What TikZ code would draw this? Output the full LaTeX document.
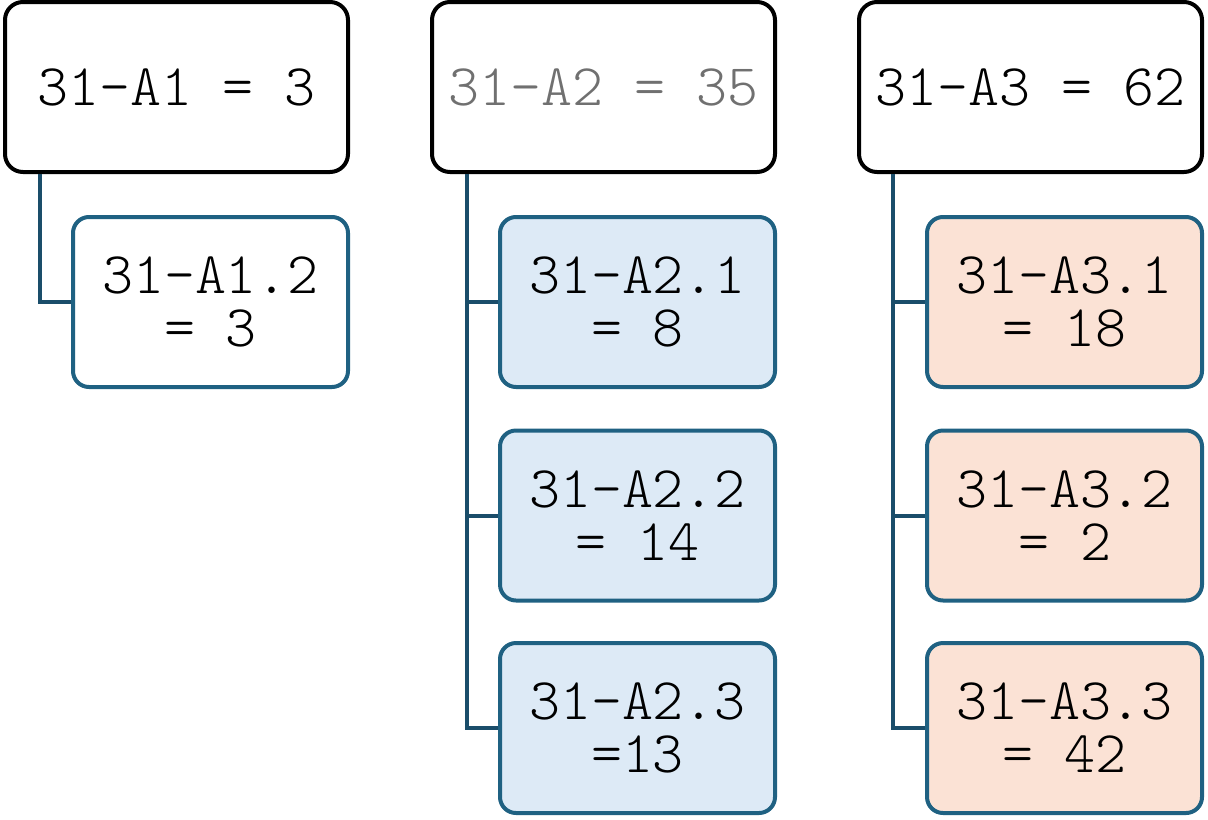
\documentclass[tikz,border=0pt]{standalone}
\usepackage{fontspec}
\setmonofont{Latin Modern Mono Light}
\usetikzlibrary{calc}
\definecolor{cborder}{HTML}{1F6182}
\definecolor{cconn}{HTML}{1A4D6A}
\definecolor{bluefill}{HTML}{DDEAF6}
\definecolor{peachfill}{HTML}{FBE2D5}
\definecolor{graytext}{HTML}{707070}
\begin{document}
\begin{tikzpicture}[x=0.5pt,y=-0.5pt,
  parentbox/.style={draw=black, line width=2pt, rounded corners=9pt, fill=white,
    minimum width=171.5pt, minimum height=85pt, inner sep=0pt,
    font=\ttfamily\fontsize{29.5}{26.5}\selectfont},
  childbox/.style={draw=cborder, line width=2pt, rounded corners=8pt, fill=white,
    minimum width=137.5pt, minimum height=85pt, inner sep=0pt, align=center,
    font=\ttfamily\fontsize{29.5}{26.5}\selectfont},
  bluebox/.style={childbox, fill=bluefill},
  peachbox/.style={childbox, fill=peachfill},
  conn/.style={draw=cconn, line width=2pt}]
\useasboundingbox (0,0) rectangle (1208,819);

\coordinate (t1) at (40,174);
\coordinate (t2) at (467,174);
\coordinate (t3) at (893,174);

\node[parentbox] (p1) at (176.5,87) {31-A1 = 3};
\node[parentbox, text=graytext] (p2) at (603.5,87) {31-A2 = 35};
\node[parentbox] (p3) at (1030.5,87) {31-A3 = 62};

\node[childbox] (c12) at (210.5,302) {31-A1.2\\= 3};

\node[bluebox] (c21) at (637.5,302) {31-A2.1\\= 8};
\node[bluebox] (c22) at (637.5,515.5) {31-A2.2\\= 14};
\node[bluebox] (c23) at (637.5,728) {31-A2.3\\=13};

\node[peachbox] (c31) at (1064.5,302) {31-A3.1\\= 18};
\node[peachbox] (c32) at (1064.5,515.5) {31-A3.2\\= 2};
\node[peachbox] (c33) at (1064.5,728) {31-A3.3\\= 42};

\draw[conn] (t1) |- (c12.west);

\draw[conn] (t2) |- (c23.west);
\draw[conn] (t2 |- c21.west) -- (c21.west);
\draw[conn] (t2 |- c22.west) -- (c22.west);

\draw[conn] (t3) |- (c33.west);
\draw[conn] (t3 |- c31.west) -- (c31.west);
\draw[conn] (t3 |- c32.west) -- (c32.west);
\end{tikzpicture}
\end{document}
